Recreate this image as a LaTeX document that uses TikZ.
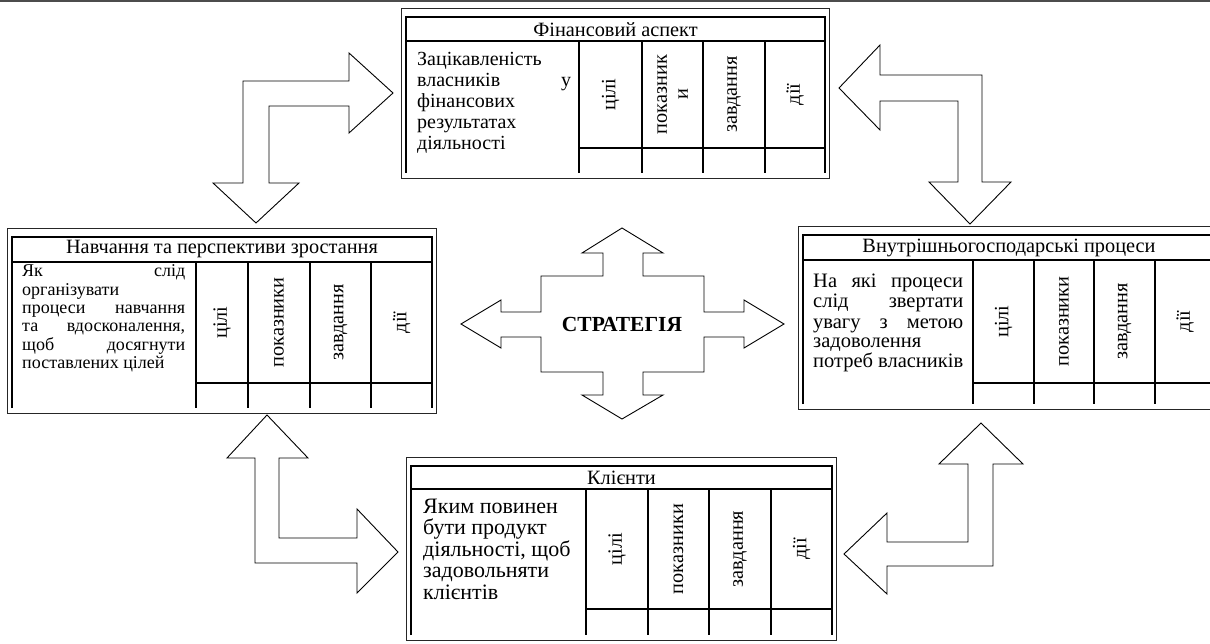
\documentclass[tikz,border=0pt]{standalone}
\usepackage{fontspec}
\setmainfont{Liberation Serif}
\newcommand\tabframe[8]{%
  \draw[frameline] (#1-5,#2-9) rectangle (#3+4,#6+5);
  \draw[tabline] (#1,#6) -- (#1,#2) -- (#3,#2) -- (#3,#6);
  \draw[tabline] (#1,#4) -- (#3,#4);
  \draw[tabline] (#7,#5) -- (#3,#5);
  \foreach \dd in {#7,#8} \draw[tabline] (\dd,#4) -- (\dd,#6);
}
\begin{document}
\begin{tikzpicture}[x=1pt,y=-1pt,
  frameline/.style={draw=black!85, line width=0.9pt},
  tabline/.style={draw=black, line width=1.8pt},
  blockarrow/.style={draw=black, line width=0.9pt, fill=white, line join=miter},
  title/.style={font=\fontsize{20.3}{21}\selectfont, inner sep=0pt},
  collabel/.style={rotate=90, font=\fontsize{20.3}{21}\selectfont, inner sep=0pt, align=center},
  desc/.style={anchor=base west, inner sep=0pt, font=\fontsize{20}{21}\selectfont}]
\useasboundingbox (0,0) rectangle (1210,644);
\clip (0,0) rectangle (1210,644);
\draw[draw=black!70, line width=2pt] (0,1) -- (1210,1);

% ---- top box: financial
\tabframe{406}{17}{825}{41}{148}{173}{579}{642,703,765}
\node[title] (finH) at (615.5,29.5) {Фінансовий аспект};
\node[desc] (finD) at (417,66) {\parbox[t]{154pt}{Зацікавленість\\\makebox[\linewidth]{власників\hfill у}\\фінансових\\результатах\\діяльності}};
\node[collabel] (fin1) at (610.5,94.5) {цілі};
\node[collabel] (fin2) at (672.5,94.5) {показник\\и};
\node[collabel] (fin3) at (734,94.5) {завдання};
\node[collabel] (fin4) at (795,94.5) {дії};

% ---- left box: learning
\tabframe{12}{237}{432}{262}{383}{408}{196}{248,310,371}
\node[title] (navH) at (222,249.5) {Навчання та перспективи зростання};
\node[desc, font=\fontsize{18}{18.3}\selectfont] (navD) at (22,277) {\parbox[t]{163pt}{\makebox[\linewidth]{Як\hfill слід}\\організувати\\\makebox[\linewidth]{процеси\hfill навчання}\\\makebox[\linewidth]{та\hfill вдосконалення,}\\\makebox[\linewidth]{щоб\hfill досягнути}\\поставлених цілей}};
\node[collabel] (nav1) at (222,322.5) {цілі};
\node[collabel] (nav2) at (279,322.5) {показники};
\node[collabel] (nav3) at (340.5,322.5) {завдання};
\node[collabel] (nav4) at (401.5,322.5) {дії};

% ---- right box: internal processes
\tabframe{803}{235}{1215}{260}{383}{404}{973}{1034,1094,1155}
\node[title] (vnuH) at (1009,247.5) {Внутрішньогосподарські процеси};
\node[desc, font=\fontsize{20.5}{20}\selectfont] (vnuD) at (813,288) {\parbox[t]{150pt}{\makebox[\linewidth]{На\hfill які\hfill процеси}\\\makebox[\linewidth]{слід\hfill звертати}\\\makebox[\linewidth]{увагу\hfill з\hfill метою}\\задоволення\\потреб власників}};
\node[collabel] (vnu1) at (1003.5,321.5) {цілі};
\node[collabel] (vnu2) at (1064,321.5) {показники};
\node[collabel] (vnu3) at (1124.5,321.5) {завдання};
\node[collabel] (vnu4) at (1185,321.5) {дії};

% ---- bottom box: clients
\tabframe{411}{466}{832}{489}{609}{635}{586}{648,709,771}
\node[title] (kliH) at (621.5,477.5) {Клієнти};
\node[desc, font=\fontsize{22}{21.5}\selectfont] (kliD) at (423,513) {\parbox[t]{160pt}{Яким повинен\\бути продукт\\діяльності, щоб\\задовольняти\\клієнтів}};
\node[collabel] (kli1) at (617,549) {цілі};
\node[collabel] (kli2) at (678.5,549) {показники};
\node[collabel] (kli3) at (740,549) {завдання};
\node[collabel] (kli4) at (801.5,549) {дії};

% ---- central four-way arrow
\draw[blockarrow] (622,228) -- (663,253) -- (643,253) -- (643,276) -- (704,276) -- (704,312) -- (744,312) -- (744,300) -- (784,324) -- (744,348) -- (744,337) -- (704,337) -- (704,372) -- (643,372) -- (643,395) -- (663,395) -- (622,419) -- (582,395) -- (603,395) -- (603,372) -- (541,372) -- (541,337) -- (501,337) -- (501,348) -- (461,324) -- (501,300) -- (501,312) -- (541,312) -- (541,276) -- (603,276) -- (603,253) -- (582,253) -- cycle;
\node[font=\fontsize{21.5}{23}\selectfont\bfseries, inner sep=0pt] (strat) at (622,324) {СТРАТЕГІЯ};

% ---- corner L-arrows
\draw[blockarrow] (243,81) -- (349,81) -- (349,53) -- (393,93) -- (349,133) -- (349,106) -- (269,106) -- (269,183) -- (299,183) -- (256,223) -- (213,183) -- (243,183) -- cycle;
\draw[blockarrow] (982,75) -- (880,75) -- (880,45) -- (839,88) -- (880,130) -- (880,101) -- (958,101) -- (958,182) -- (929,182) -- (970,224) -- (1011,182) -- (982,182) -- cycle;
\draw[blockarrow] (267,415) -- (308,458) -- (279,458) -- (279,538) -- (357,538) -- (357,509) -- (398,552) -- (357,593) -- (357,563) -- (255,563) -- (255,458) -- (227,458) -- cycle;
\draw[blockarrow] (981,423) -- (1023,464) -- (993,464) -- (993,566) -- (887,566) -- (887,594) -- (844,554) -- (887,513) -- (887,542) -- (968,542) -- (968,464) -- (939,464) -- cycle;
\end{tikzpicture}
\end{document}
